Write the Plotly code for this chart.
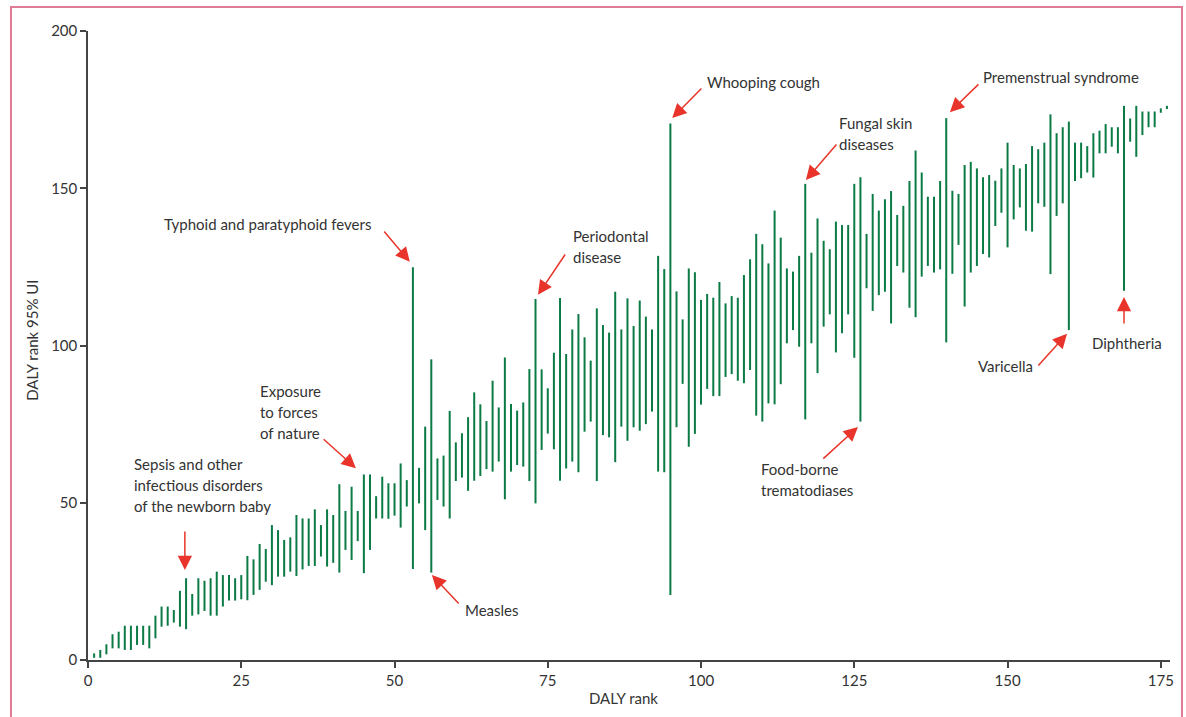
import plotly.graph_objects as go

# ---- data: DALY rank and 95% UI (low/high) of rank ----
ranks = list(range(1, 177))
low = [0.7, 0.7, 1.8, 3.7, 3.7, 3.2, 3.2, 4.8, 4.8, 3.7,
       6.9, 10.6, 10.9, 11.9, 10.6, 9.8, 14.1, 14.5, 15.6, 14.1,
       14.1, 17.0, 18.9, 18.9, 19.3, 19.0, 20.7, 22.3, 24.9, 23.8,
       26.5, 26.5, 28.1, 26.7, 28.8, 29.9, 29.9, 32.9, 29.7, 30.9,
       27.8, 35.0, 31.8, 37.8, 27.6, 35.0, 45.0, 45.0, 44.9, 45.9,
       42.1, 48.8, 28.9, 49.8, 41.3, 27.8, 50.9, 48.8, 45.0, 56.9,
       58.0, 53.8, 57.0, 58.5, 60.7, 59.9, 63.1, 51.1, 59.9, 62.0,
       61.5, 56.9, 49.8, 66.8, 72.0, 67.0, 57.0, 60.9, 63.1, 59.7,
       72.6, 75.8, 56.9, 71.5, 70.8, 62.9, 74.2, 69.7, 74.0, 72.9,
       75.0, 79.0, 59.9, 59.7, 20.7, 74.0, 87.8, 67.8, 71.9, 81.2,
       86.2, 83.9, 83.9, 90.0, 90.9, 88.8, 88.0, 92.2, 77.7, 75.8,
       81.6, 81.3, 87.7, 100.7, 104.9, 99.6, 76.5, 100.7, 91.2, 106.0,
       109.9, 97.8, 103.9, 109.9, 96.1, 75.8, 118.2, 111.0, 116.0, 117.1,
       107.0, 125.3, 123.2, 112.0, 109.0, 121.9, 125.3, 123.2, 124.2, 101.0,
       122.8, 132.0, 112.4, 123.2, 125.3, 129.1, 128.0, 138.0, 142.2, 131.2,
       140.1, 143.9, 136.5, 136.2, 145.2, 144.1, 122.7, 141.2, 145.2, 104.9,
       152.3, 153.2, 155.0, 153.4, 161.1, 161.1, 163.2, 161.1, 117.4, 164.8,
       160.0, 166.9, 169.4, 169.4, 174.0, 175.2]
high = [2.1, 3.2, 5.0, 8.2, 9.0, 10.9, 10.9, 10.9, 10.9, 10.9,
        14.1, 17.0, 17.0, 15.9, 22.0, 26.0, 21.0, 26.0, 25.2, 26.0,
        28.1, 27.0, 27.0, 26.0, 27.0, 33.1, 32.0, 36.9, 35.3, 42.9,
        41.3, 38.2, 39.0, 46.1, 45.0, 45.0, 47.9, 42.9, 47.9, 46.1,
        55.9, 47.4, 55.1, 47.4, 59.0, 59.0, 52.1, 58.3, 56.2, 56.2,
        62.5, 57.2, 124.9, 61.1, 74.2, 95.6, 64.1, 65.0, 79.2, 69.2,
        72.1, 77.2, 85.1, 81.3, 76.0, 88.8, 80.3, 96.2, 81.4, 79.3,
        81.9, 92.5, 114.8, 92.4, 86.4, 97.7, 115.1, 97.3, 105.1, 110.0,
        102.6, 95.2, 111.8, 106.5, 104.1, 117.1, 105.1, 115.0, 106.2, 114.3,
        109.2, 105.1, 128.5, 124.3, 170.6, 117.2, 108.3, 124.5, 123.3, 114.5,
        116.4, 115.2, 120.2, 113.4, 115.7, 115.2, 122.4, 127.4, 135.5, 132.2,
        126.1, 142.9, 134.3, 124.5, 123.5, 128.5, 151.4, 129.5, 140.4, 133.3,
        130.6, 139.4, 138.3, 138.3, 151.4, 153.5, 135.5, 148.2, 142.9, 146.5,
        149.1, 141.5, 144.4, 152.3, 162.0, 155.0, 147.3, 147.3, 152.3, 172.3,
        149.2, 148.2, 157.4, 158.4, 156.3, 153.5, 154.2, 152.4, 156.3, 164.5,
        157.4, 156.3, 157.7, 163.4, 162.4, 164.5, 173.5, 167.5, 169.4, 171.2,
        164.5, 164.5, 163.4, 167.5, 168.3, 170.4, 169.4, 169.4, 176.2, 172.2,
        176.2, 174.4, 174.4, 174.4, 175.4, 176.2]

x_ticks = [0, 25, 50, 75, 100, 125, 150, 175]
y_ticks = [0, 50, 100, 150, 200]

# ---- label text lines (text, x, y in data units) ----
label_lines = [
    ("Typhoid and paratyphoid fevers", 12.0, 138.6),
    ("Periodontal", 78.8, 134.8), ("disease", 78.8, 128.1),
    ("Whooping cough", 100.6, 183.8),
    ("Fungal skin", 122.1, 170.7), ("diseases", 122.1, 164.0),
    ("Premenstrual syndrome", 145.7, 185.4),
    ("Sepsis and other", 7.1, 62.3), ("infectious disorders", 7.1, 55.6),
    ("of the newborn baby", 7.1, 48.9),
    ("Exposure", 27.8, 85.5), ("to forces", 27.8, 78.9), ("of nature", 27.8, 72.2),
    ("Measles", 61.1, 15.9),
    ("Food-borne", 109.4, 60.7), ("trematodiases", 109.4, 54.1),
    ("Varicella", 144.8, 93.5),
    ("Diphtheria", 163.5, 100.8),
]
# arrows: (tail x, tail y, tip x, tip y) in data units
arrows = [
    (48.1, 136.7, 52.5, 126.6),
    (78.0, 129.4, 73.4, 116.1),
    (100.3, 182.2, 95.3, 172.3),
    (122.3, 164.4, 117.1, 152.6),
    (145.5, 183.5, 140.6, 174.2),
    (15.8, 41.3, 15.8, 28.6),
    (38.2, 70.6, 43.7, 61.0),
    (60.7, 17.5, 56.1, 27.0),
    (119.7, 63.6, 125.6, 74.1),
    (154.8, 93.2, 159.7, 103.7),
    (169.0, 106.5, 169.0, 115.4),
]

FONT = "Lato, 'Open Sans', sans-serif"
FS = 15
TXT = "#333333"
GREEN = "#0b7a45"
RED = "#e8342a"

xs, ys = [], []
for r, lo, hi in zip(ranks, low, high):
    xs += [r, r, None]
    ys += [lo, hi, None]

fig = go.Figure(go.Scatter(x=xs, y=ys, mode="lines",
                           line=dict(color=GREEN, width=2),
                           hoverinfo="skip", showlegend=False))

ann = []
for t, x, y in label_lines:
    ann.append(dict(text=t, x=x, y=y, xref="x", yref="y", showarrow=False,
                    xanchor="left", yanchor="middle",
                    font=dict(family=FONT, size=FS, color=TXT)))
for tx, ty, hx, hy in arrows:
    ann.append(dict(text="", x=hx, y=hy, ax=tx, ay=ty, xref="x", yref="y",
                    axref="x", ayref="y", showarrow=True, arrowhead=2,
                    arrowsize=1.9, arrowwidth=1.5, arrowcolor=RED,
                    standoff=0, startstandoff=0))
ann.append(dict(text="DALY rank", x=0.495, y=-0.0604, xref="paper", yref="paper",
                showarrow=False, xanchor="center", yanchor="middle",
                font=dict(family=FONT, size=FS, color=TXT)))
ann.append(dict(text="DALY rank 95% UI", x=-0.0518, y=0.509, xref="paper", yref="paper",
                showarrow=False, xanchor="center", yanchor="middle", textangle=-90,
                font=dict(family=FONT, size=FS, color=TXT)))

axis_common = dict(showgrid=False, zeroline=False, showline=True,
                   linecolor="#444444", linewidth=1.5, ticks="outside",
                   ticklen=6, tickwidth=1.5, tickcolor="#444444",
                   tickfont=dict(family=FONT, size=FS, color=TXT))

fig.update_layout(
    width=1186, height=717, autosize=False,
    margin=dict(l=88, r=16, t=31, b=57),
    paper_bgcolor="white", plot_bgcolor="white",
    xaxis=dict(range=[0, 176.5], tickvals=x_ticks, **axis_common),
    yaxis=dict(range=[0, 200], tickvals=y_ticks, **axis_common),
    annotations=ann,
    shapes=[dict(type="rect", xref="paper", yref="paper",
                 x0=-0.0712, x1=1.0111, y0=-0.2, y1=1.0382,
                 line=dict(color="#e07b95", width=2), fillcolor="rgba(0,0,0,0)",
                 layer="above")],
)

fig.write_html("out.html",
               config={"displayModeBar": False},
               post_script="document.body.style.margin='0';document.body.style.overflow='hidden';")
